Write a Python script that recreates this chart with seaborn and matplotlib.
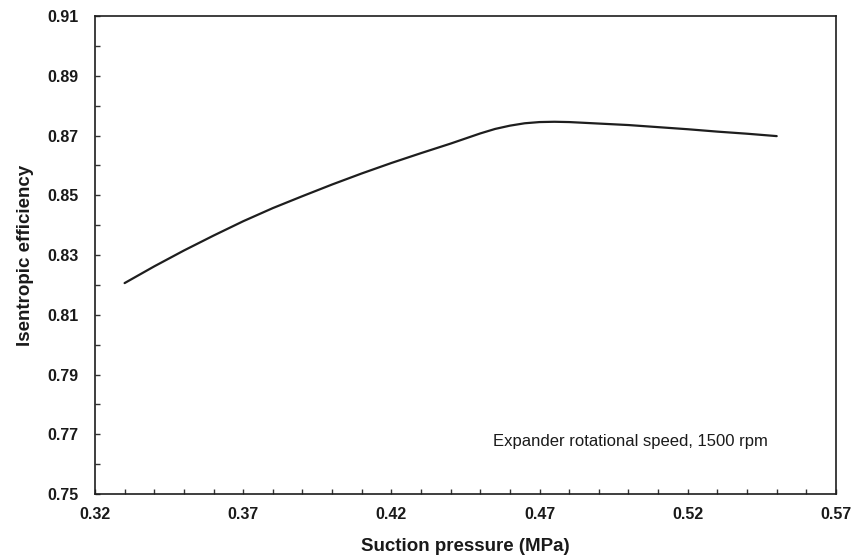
import matplotlib
matplotlib.use("Agg")
import matplotlib.pyplot as plt
from matplotlib.ticker import FormatStrFormatter
import seaborn as sns
import pandas as pd

# Suction pressure (MPa) and isentropic efficiency of the expander
suction_pressure = [0.33, 0.34, 0.35, 0.36, 0.37, 0.38, 0.39, 0.40, 0.41,
                    0.42, 0.43, 0.44, 0.45, 0.455, 0.46, 0.465, 0.47, 0.475,
                    0.48, 0.49, 0.50, 0.51, 0.52, 0.53, 0.54, 0.55]
isentropic_eff = [0.8206, 0.8262, 0.8315, 0.8365, 0.8413, 0.8457, 0.8497,
                  0.8536, 0.8573, 0.8608, 0.8641, 0.8673, 0.8707, 0.8722,
                  0.8733, 0.8741, 0.8745, 0.8746, 0.8745, 0.8740, 0.8735,
                  0.8728, 0.8721, 0.8713, 0.8706, 0.8698]
note_text = "Expander rotational speed, 1500 rpm"

x_ticks = [0.32, 0.37, 0.42, 0.47, 0.52, 0.57]
x_minor = [0.33, 0.34, 0.35, 0.36, 0.38, 0.39, 0.40, 0.41, 0.43, 0.44, 0.45,
           0.46, 0.48, 0.49, 0.50, 0.51, 0.53, 0.54, 0.55, 0.56]
y_ticks = [0.75, 0.77, 0.79, 0.81, 0.83, 0.85, 0.87, 0.89, 0.91]
y_minor = [0.76, 0.78, 0.80, 0.82, 0.84, 0.86, 0.88, 0.90]

df = pd.DataFrame({"p": suction_pressure, "eff": isentropic_eff})

sns.set_theme(style="white")
plt.rcParams["font.family"] = ["Liberation Sans", "DejaVu Sans"]

fig = plt.figure(figsize=(8.54, 5.56), dpi=100)
ax = fig.add_axes([0.1112, 0.1115, 0.8677, 0.8597])

sns.lineplot(data=df, x="p", y="eff", ax=ax, color="#1e1e1e", linewidth=1.6)

ax.set_xlim(0.32, 0.57)
ax.set_ylim(0.75, 0.91)
ax.set_xticks(x_ticks)
ax.set_xticks(x_minor, minor=True)
ax.set_yticks(y_ticks)
ax.set_yticks(y_minor, minor=True)
ax.xaxis.set_major_formatter(FormatStrFormatter("%.2f"))
ax.yaxis.set_major_formatter(FormatStrFormatter("%.2f"))

for s in ax.spines.values():
    s.set_color("#1e1e1e")
    s.set_linewidth(1.2)

ax.tick_params(axis="both", which="both", direction="in", length=3.5,
               width=1.0, color="#333333", bottom=True, left=True,
               top=False, right=False)
ax.tick_params(axis="y", which="major", pad=11.5, labelsize=11.5,
               labelcolor="#1a1a1a")
ax.tick_params(axis="x", which="major", pad=9, labelsize=11.5,
               labelcolor="#1a1a1a")
for lab in ax.get_xticklabels() + ax.get_yticklabels():
    lab.set_fontweight("bold")

ax.set_xlabel("Suction pressure (MPa)", fontsize=13.5, fontweight="bold",
              color="#1a1a1a", labelpad=12)
ax.set_ylabel("Isentropic efficiency", fontsize=13.5, fontweight="bold",
              color="#1a1a1a", labelpad=10)

ax.text(0.4543, 0.7677, note_text, fontsize=12, color="#1a1a1a",
        ha="left", va="center")

fig.savefig("out.png", dpi=100)
